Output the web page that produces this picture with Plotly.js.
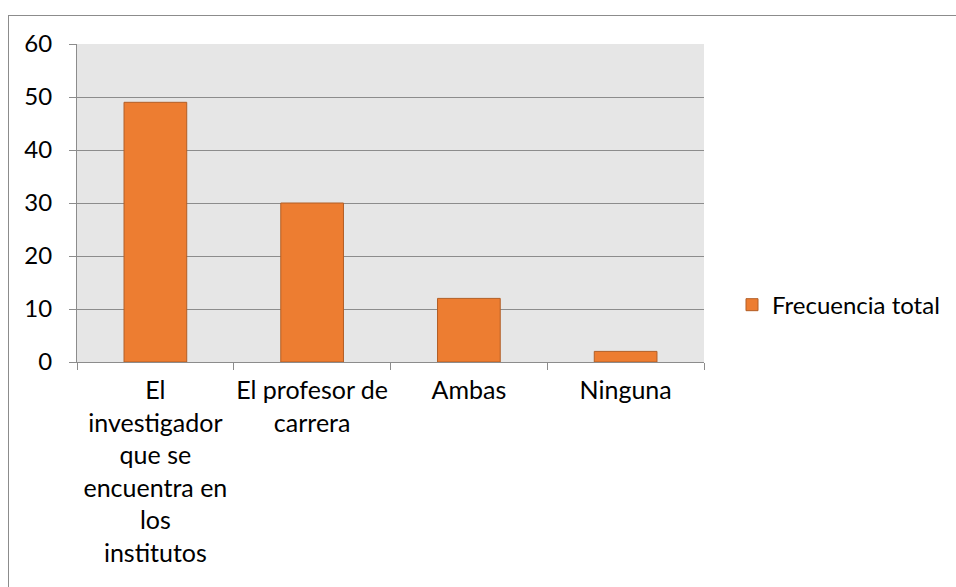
<!DOCTYPE html>
<html>
<head>
<meta charset="utf-8">
<script src="https://cdn.plot.ly/plotly-3.0.1.min.js"></script>
<style>
  html, body { margin: 0; padding: 0; background: #ffffff; }
  #frame { position: absolute; left: 8px; top: 15px; width: 1000px; height: 700px;
           border-left: 1px solid #8c8c8c; border-top: 1px solid #8c8c8c; }
  #chart { position: absolute; left: 0; top: 0; width: 956px; height: 587px; }
</style>
</head>
<body>
<div id="frame"></div>
<div id="chart"></div>
<script>
const categories = ["El investigador que se encuentra en los institutos", "El profesor de carrera", "Ambas", "Ninguna"];
const tickLabels = ["El<br>investigador<br>que se<br>encuentra en<br>los<br>institutos", "El profesor de<br>carrera", "Ambas", "Ninguna"];
const frecuenciaTotal = [49, 30, 12, 2];
const seriesName = "Frecuencia total";
const yTicks = [0, 10, 20, 30, 40, 50, 60];

const fontFamily = "Lato, 'Open Sans', sans-serif";

const trace = {
  type: "bar",
  name: seriesName,
  x: categories,
  y: frecuenciaTotal,
  width: 0.4,
  marker: { color: "#ed7d31", line: { color: "#b25e26", width: 1 } },
  showlegend: true,
  hoverinfo: "x+y"
};

const layout = {
  width: 956,
  height: 587,
  margin: { l: 77, r: 251, t: 44, b: 225 },
  paper_bgcolor: "rgba(0,0,0,0)",
  plot_bgcolor: "#e6e6e6",
  font: { family: fontFamily, size: 24, color: "#000000" },
  showlegend: true,
  bargap: 0.6,
  xaxis: {
    type: "category",
    tickvals: categories,
    ticktext: tickLabels,
    tickangle: 0,
    showline: true,
    linecolor: "#8c8c8c",
    linewidth: 1,
    ticks: "outside",
    tickson: "boundaries",
    ticklen: 7,
    tickcolor: "#8c8c8c",
    ticklabelstandoff: 6,
    showgrid: false,
    zeroline: false,
    tickfont: { family: fontFamily, size: 25, color: "#000000" }
  },
  yaxis: {
    range: [0, 60],
    tickvals: yTicks,
    ticktext: yTicks.map(String),
    showline: true,
    linecolor: "#8c8c8c",
    linewidth: 1,
    ticks: "outside",
    ticklen: 7,
    tickcolor: "#8c8c8c",
    ticklabelstandoff: 12,
    showgrid: true,
    gridcolor: "#8c8c8c",
    gridwidth: 1,
    zeroline: false,
    tickfont: { family: fontFamily, size: 24, color: "#000000" }
  },
  legend: {
    x: 1.043,
    xanchor: "left",
    y: 0.179,
    yanchor: "middle",
    bgcolor: "rgba(0,0,0,0)",
    font: { family: fontFamily, size: 24, color: "#000000" }
  }
};

Plotly.newPlot("chart", [trace], layout, { displayModeBar: false, staticPlot: true });
</script>
</body>
</html>
